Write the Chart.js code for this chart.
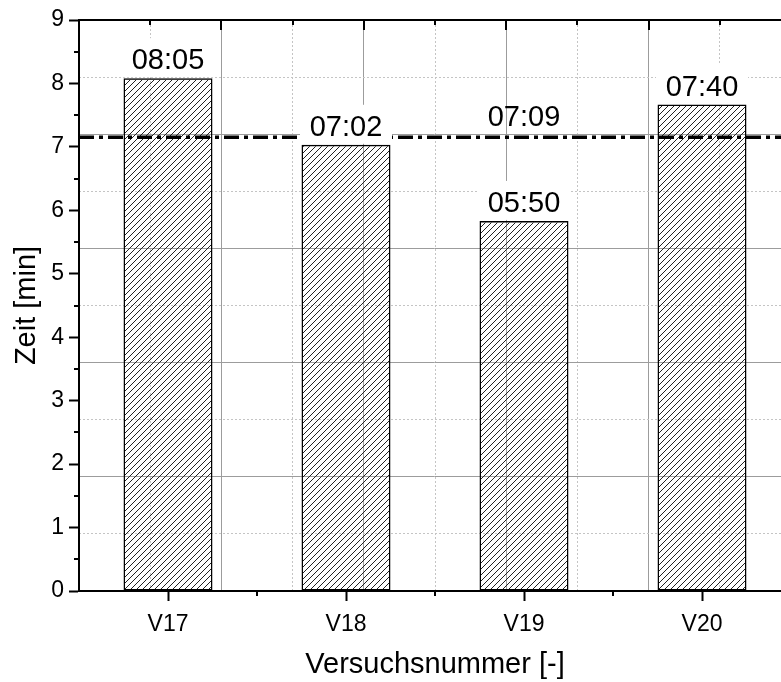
<!DOCTYPE html>
<html>
<head>
<meta charset="utf-8">
<script src="https://cdn.jsdelivr.net/npm/chart.js@4/dist/chart.umd.min.js"></script>
<style>
    html, body { margin: 0; padding: 0; background: #fff; overflow: hidden; }
    #wrap { width: 781px; height: 682px; overflow: hidden; }
</style>
</head>
<body>
<div id="wrap"><canvas id="zeitChart" width="800" height="682"></canvas></div>
<script>
'use strict';

// Versuchsdaten
const versuche = ['V17', 'V18', 'V19', 'V20'];
const zeitMin = [8.083, 7.033, 5.833, 7.667];
const zeitLabels = ['08:05', '07:02', '05:50', '07:40'];
const mittelwert = 7.15;
const mittelLabel = '07:09';

const FONT = "'Liberation Sans', Arial, sans-serif";

// Schraffur fuer die Balken (Hintergrund transparent)
function makeHatch() {
    const c = document.createElement('canvas');
    c.width = 6;
    c.height = 6;
    const g = c.getContext('2d');
    g.strokeStyle = '#222';
    g.lineWidth = 1;
    g.beginPath();
    g.moveTo(0, 6); g.lineTo(6, 0);
    g.moveTo(-1, 1); g.lineTo(1, -1);
    g.moveTo(5, 7); g.lineTo(7, 5);
    g.stroke();
    return g.createPattern(c, 'repeat');
}

const gridColor = ctx => {
    const v = ctx.tick ? ctx.tick.value : 0;
    if (v <= 0 || v >= 10) return 'rgba(0,0,0,0)';
    return v % 2 ? '#c4c4c4' : '#9c9c9c';
};
const gridDash = ctx => (ctx.tick && ctx.tick.value % 2) ? [2, 2] : [];

// Extra Striche (Nebenteilung, innenliegende Striche) und Beschriftungen
const extrasPlugin = {
    id: 'extras',
    afterDatasetsDraw(chart) {
        const ctx = chart.ctx;
        const {left, right, top, bottom} = chart.chartArea;
        const x = chart.scales.x, y = chart.scales.y;
        const xg = chart.scales.xg, yg = chart.scales.yg;

        ctx.save();
        ctx.strokeStyle = '#000';
        ctx.lineWidth = 2;
        ctx.beginPath();
        // Nebenteilung y
        for (let v = 0.5; v < 9; v += 1) {
            const py = Math.round(y.getPixelForValue(v));
            ctx.moveTo(left - 5, py); ctx.lineTo(left, py);
        }
        // Nebenteilung x (Kategoriegrenzen)
        for (let i = 0; i < versuche.length; i++) {
            const px = Math.round((x.getPixelForValue(i) + x.getPixelForValue(i + 1)) / 2);
            ctx.moveTo(px, bottom); ctx.lineTo(px, bottom + 5);
        }
        // innenliegende Striche oben und rechts
        for (let v = 1; v < 10; v++) {
            const len = v % 2 ? 5 : 10;
            const px = Math.round(xg.getPixelForValue(v));
            ctx.moveTo(px, top); ctx.lineTo(px, top + len);
            const py = Math.round(yg.getPixelForValue(v));
            ctx.moveTo(right, py); ctx.lineTo(right - len, py);
        }
        ctx.stroke();

        // Balkenbeschriftungen mit weissem Hintergrund
        ctx.font = '29px ' + FONT;
        ctx.textAlign = 'center';
        ctx.textBaseline = 'alphabetic';
        const meta = chart.getDatasetMeta(1);
        meta.data.forEach((bar, i) => {
            ctx.fillStyle = '#fff';
            ctx.fillRect(bar.x - 46, bar.y - 40, 92, 39);
            ctx.fillStyle = '#000';
            ctx.fillText(zeitLabels[i], bar.x, bar.y - 9);
        });

        // Mittelwert
        ctx.fillStyle = '#000';
        ctx.fillText(mittelLabel, x.getPixelForValue(2), y.getPixelForValue(mittelwert) - 11);
        ctx.restore();
    }
};

new Chart(document.getElementById('zeitChart'), {
    type: 'bar',
    data: {
        labels: versuche,
        datasets: [{
            type: 'line',
            label: 'Mittelwert',
            data: [{x: 0, y: mittelwert}, {x: 10, y: mittelwert}],
            xAxisID: 'xg',
            yAxisID: 'y',
            borderColor: '#000',
            borderWidth: 3.5,
            borderDash: [15, 5, 4, 5],
            pointRadius: 0,
            fill: false
        }, {
            type: 'bar',
            label: 'Zeit',
            data: zeitMin,
            xAxisID: 'x',
            yAxisID: 'y',
            backgroundColor: makeHatch(),
            borderColor: '#000',
            borderWidth: 1.5,
            borderSkipped: false,
            grouped: false,
            barPercentage: 0.5,
            categoryPercentage: 1.0
        }]
    },
    options: {
        responsive: false,
        animation: false,
        plugins: {
            legend: { display: false },
            tooltip: { enabled: false }
        },
        layout: { padding: 0 },
        scales: {
            x: {
                type: 'category',
                position: 'bottom',
                offset: true,
                afterFit: s => { s.height = 91; },
                grid: {
                    offset: false,
                    drawOnChartArea: false,
                    drawTicks: true,
                    tickLength: 10,
                    tickWidth: 2,
                    tickColor: '#000'
                },
                border: { display: true, color: '#000', width: 2 },
                ticks: { color: '#000', padding: 10, font: { family: FONT, size: 23 } },
                title: {
                    display: true,
                    text: 'Versuchsnummer [-]',
                    color: '#000',
                    font: { family: FONT, size: 29 },
                    padding: { top: 0, bottom: 0 }
                }
            },
            y: {
                type: 'linear',
                position: 'left',
                min: 0,
                max: 9,
                afterFit: s => { s.width = 79; },
                grid: {
                    drawOnChartArea: false,
                    drawTicks: true,
                    tickLength: 10,
                    tickWidth: 2,
                    tickColor: '#000'
                },
                border: { display: true, color: '#000', width: 2 },
                ticks: { stepSize: 1, color: '#000', padding: 5, font: { family: FONT, size: 23 } },
                title: {
                    display: true,
                    text: 'Zeit [min]',
                    color: '#000',
                    font: { family: FONT, size: 29 },
                    padding: { top: 10, bottom: 0 }
                }
            },
            xg: {
                type: 'linear',
                position: 'top',
                min: 0,
                max: 10,
                offset: false,
                afterFit: s => { s.height = 20; },
                ticks: { display: false, stepSize: 1 },
                grid: {
                    offset: false,
                    drawOnChartArea: true,
                    drawTicks: false,
                    color: gridColor,
                    lineWidth: 1
                },
                border: { display: true, color: '#000', width: 2, dash: gridDash }
            },
            yg: {
                type: 'linear',
                position: 'right',
                min: 0,
                max: 10,
                offset: false,
                afterFit: s => { s.width = 9; },
                ticks: { display: false, stepSize: 1 },
                grid: {
                    offset: false,
                    drawOnChartArea: true,
                    drawTicks: false,
                    color: gridColor,
                    lineWidth: 1
                },
                border: { display: true, color: '#000', width: 2, dash: gridDash }
            }
        }
    },
    plugins: [extrasPlugin]
});
</script>
</body>
</html>
